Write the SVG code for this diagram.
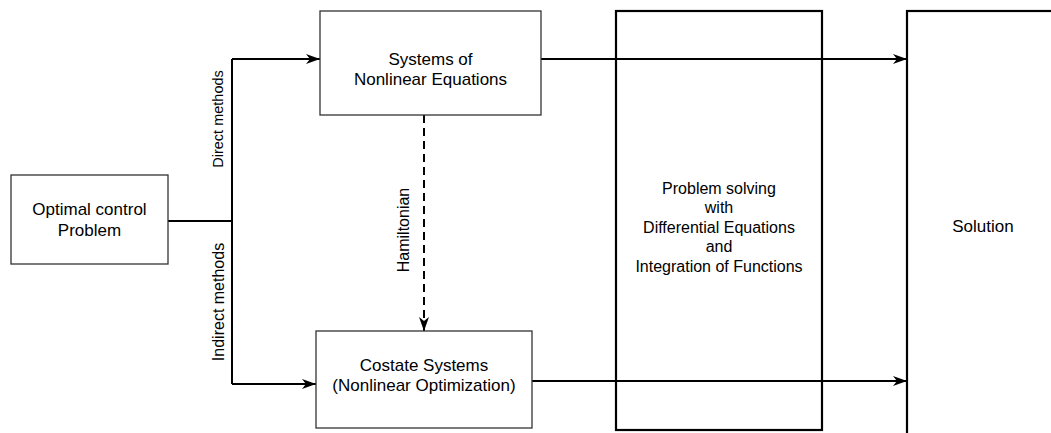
<svg xmlns="http://www.w3.org/2000/svg" width="1051" height="433" viewBox="0 0 1051 433">
<style>
text{font-family:"Liberation Sans",Arial,sans-serif;font-size:17px;fill:#000;text-anchor:middle}
.mid{font-size:16px}
.lbl{font-size:16px}
.sm{font-size:14.5px}
.box{fill:#fff;stroke:#333;stroke-width:1.3}
.big{fill:none;stroke:#000;stroke-width:2.2}
.con{fill:none;stroke:#000;stroke-width:2}
.dash{stroke-dasharray:8 5}
</style>
<defs>
<marker id="ah" viewBox="0 0 14 10" refX="14" refY="5" markerWidth="14" markerHeight="10" markerUnits="userSpaceOnUse" orient="auto">
<path d="M0,0 L14,5 L0,10 L4,5 Z" fill="#000"/>
</marker>
</defs>
<g id="solution">
<rect class="big" x="907" y="11" width="200" height="500"/>
<text x="983" y="232">Solution</text>
</g>
<g id="connectors">
<path class="con" d="M168,221 H232"/>
<path class="con" d="M232,59 V384"/>
<path class="con" d="M232,59 H320" marker-end="url(#ah)"/>
<path class="con" d="M232,384 H316" marker-end="url(#ah)"/>
<path class="con dash" d="M424,115 V331" marker-end="url(#ah)"/>
<path class="con" d="M541,59 H907" marker-end="url(#ah)"/>
<path class="con" d="M532,381 H907" marker-end="url(#ah)"/>
<text class="sm" x="0" y="0" transform="translate(223,119) rotate(-90)">Direct methods</text>
<text class="lbl" x="0" y="0" transform="translate(224,302) rotate(-90)">Indirect methods</text>
<text class="lbl" x="0" y="0" transform="translate(409,230) rotate(-90)">Hamiltonian</text>
</g>
<g id="problem">
<rect class="box" x="11" y="175" width="157" height="89"/>
<text x="89.5" y="215">Optimal control</text>
<text x="89.5" y="236">Problem</text>
</g>
<g id="nonlinear">
<rect class="box" x="320" y="11" width="221" height="104"/>
<text x="430.5" y="65">Systems of</text>
<text x="430.5" y="85">Nonlinear Equations</text>
</g>
<g id="costate">
<rect class="box" x="316" y="331" width="216" height="97"/>
<text x="424" y="371">Costate Systems</text>
<text x="424" y="391">(Nonlinear Optimization)</text>
</g>
<g id="solving">
<rect class="big" x="616" y="11" width="206" height="419"/>
<text class="mid" x="719" y="194">Problem solving</text>
<text class="mid" x="719" y="213">with</text>
<text class="mid" x="719" y="233">Differential Equations</text>
<text class="mid" x="719" y="252">and</text>
<text class="mid" x="719" y="272">Integration of Functions</text>
</g>
</svg>
